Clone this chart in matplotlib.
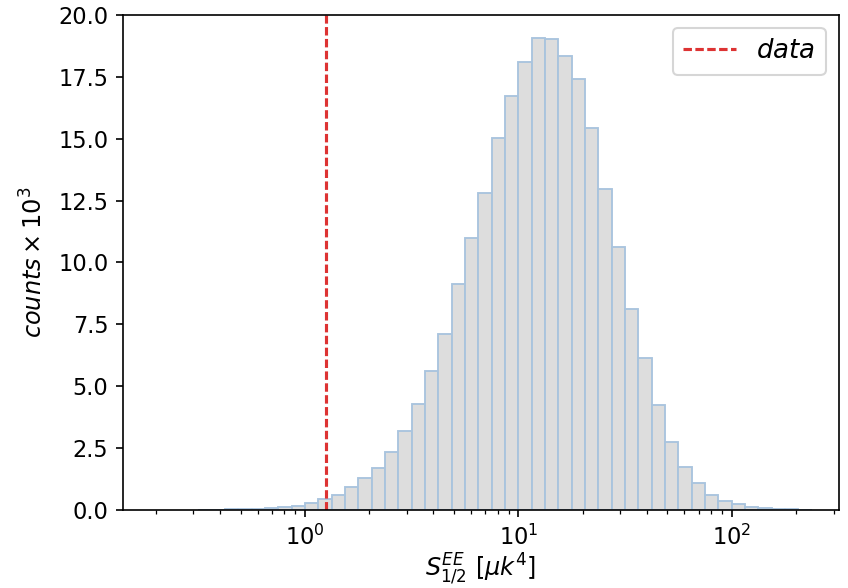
import numpy as np
import matplotlib
matplotlib.use("Agg")
import matplotlib.pyplot as plt

# Histogram of S_{1/2}^{EE} from simulations, 16 log-spaced bins per decade
bin_exponents = np.arange(-8, 39) / 16.0          # bin edges as log10 values
counts_k = [0.005, 0.01, 0.02, 0.035, 0.05, 0.08, 0.12, 0.18,
            0.28, 0.43, 0.62, 0.92, 1.31, 1.71, 2.36, 3.21,
            4.30, 5.62, 7.11, 9.12, 10.98, 12.79, 15.04, 16.74,
            18.09, 19.07, 19.03, 18.36, 17.43, 15.45, 12.96, 10.61,
            8.13, 6.13, 4.23, 2.74, 1.75, 1.08, 0.61, 0.36,
            0.24, 0.13, 0.07, 0.04, 0.02, 0.01]
data_value = 1.26
y_ticks = [0.0, 2.5, 5.0, 7.5, 10.0, 12.5, 15.0, 17.5, 20.0]

edges = 10.0 ** bin_exponents
edges = edges[:len(counts_k) + 1]

fig = plt.figure(figsize=(848 / 150, 588 / 150), dpi=150)
ax = fig.add_axes([0.145, 0.1327, 0.844, 0.8418])

ax.bar(edges[:-1], counts_k, width=np.diff(edges), align="edge",
       facecolor="#dddddd", edgecolor="#a9c4de", linewidth=0.9)

ax.axvline(data_value, color="#dd3333", lw=1.5, linestyle=(0, (2.7, 1.1)),
           label=r"$data$")

ax.set_xscale("log")
ax.set_xlim(0.1405, 317)
ax.set_ylim(0, 20)
ax.set_yticks(y_ticks)
ax.set_yticklabels([f"{t:.1f}" for t in y_ticks])

ax.tick_params(labelsize=10.8)
ax.set_xlabel(r"$S^{EE}_{1/2}\ [\mu k^4]$", fontsize=11.5, labelpad=1)
ax.set_ylabel(r"$counts \times 10^3$", fontsize=11.5, labelpad=5)

ax.legend(loc="upper right", fontsize=12.5)

fig.savefig("out.png", dpi=150)
